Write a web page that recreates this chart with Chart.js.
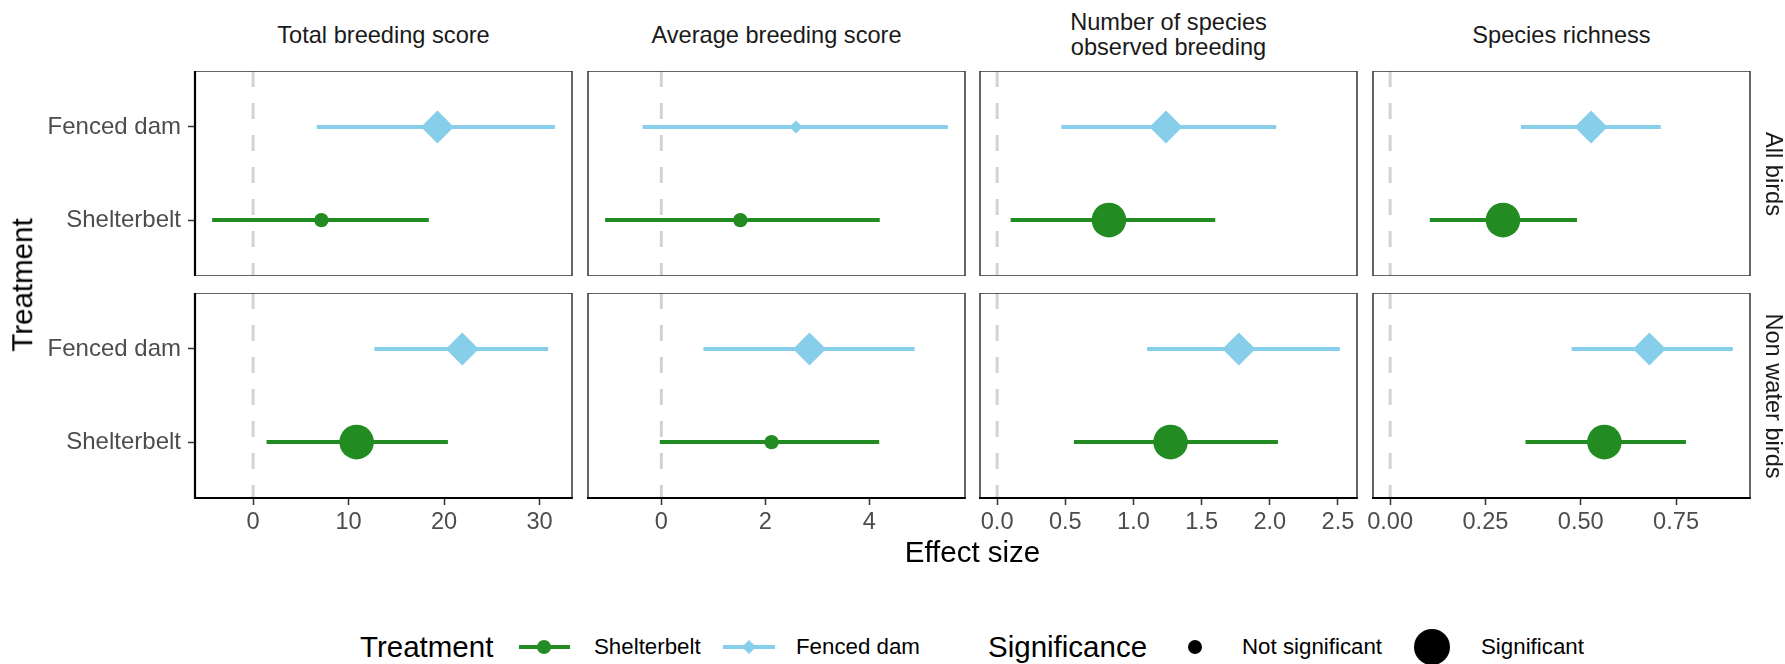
<!DOCTYPE html>
<html><head><meta charset="utf-8">
<script src="https://cdn.jsdelivr.net/npm/chart.js@4.4.1/dist/chart.umd.min.js"></script>
<style>
html,body{margin:0;padding:0;background:#fff;}
body{width:1785px;height:664px;position:relative;overflow:hidden;font-family:"Liberation Sans",Arial,sans-serif;}
canvas{position:absolute;}
.txt{position:absolute;white-space:pre;line-height:1;}
.shape{position:absolute;}
</style></head><body>
<script>
// ---------- data ----------
const metrics = ['Total breeding score', 'Average breeding score', 'Number of species\nobserved breeding', 'Species richness'];
const groups = ['All birds', 'Non water birds'];
const treatments = ['Shelterbelt', 'Fenced dam'];
// rows = groups, columns = metrics
const shelterbeltEst  = [[7.15, 1.52, 0.82, 0.296], [10.84, 2.12, 1.272, 0.562]];
const shelterbeltLow  = [[-4.29, -1.08, 0.099, 0.104], [1.41, -0.03, 0.563, 0.355]];
const shelterbeltHigh = [[18.4, 4.20, 1.60, 0.490], [20.4, 4.19, 2.06, 0.776]];
const shelterbeltSig  = [[false, false, true, true], [true, false, true, true]];
const fencedEst  = [[19.3, 2.59, 1.238, 0.527], [21.9, 2.85, 1.773, 0.680]];
const fencedLow  = [[6.67, -0.36, 0.471, 0.343], [12.7, 0.81, 1.10, 0.476]];
const fencedHigh = [[31.6, 5.51, 2.047, 0.710], [30.9, 4.87, 2.514, 0.899]];
const fencedSig  = [[true, false, true, true], [true, true, true, true]];
const xTicks = [[0, 10, 20, 30], [0, 2, 4], [0, 0.5, 1, 1.5, 2, 2.5], [0, 0.25, 0.5, 0.75]];
const xDecimals = [0, 0, 1, 2];

// ---------- styles / layout ----------
const GREEN = '#228B22', BLUE = '#87CEEB';
const FONT = '"Liberation Sans", Arial, sans-serif';
const COL_LEFT = [195, 588, 980, 1373], COL_W = 377;
const ROW_TOP = [71, 293], ROW_H = 205;
const YAXIS_W = 165, XAXIS_H = 50, PAD = 30;
const Y_MIN = -0.6, Y_MAX = 1.6;
Chart.defaults.font.family = FONT;

function colRange(c) {
  let lo = 0, hi = 0;
  for (let r = 0; r < 2; r++) {
    lo = Math.min(lo, shelterbeltLow[r][c], fencedLow[r][c]);
    hi = Math.max(hi, shelterbeltHigh[r][c], fencedHigh[r][c]);
  }
  const e = (hi - lo) * 0.05;
  return [lo - e, hi + e];
}

const framePlugin = {
  id: 'frame',
  afterDatasetsDraw(chart, args, opts) {
    const {ctx, chartArea: a} = chart;
    ctx.save();
    ctx.strokeStyle = '#333';
    ctx.lineWidth = 1.5;
    ctx.strokeRect(a.left, a.top, a.right - a.left, a.bottom - a.top);
    ctx.strokeStyle = '#000';
    ctx.lineWidth = 2.2;
    if (opts.leftAxis) { ctx.beginPath(); ctx.moveTo(a.left, a.top - 0.75); ctx.lineTo(a.left, a.bottom + 1); ctx.stroke(); }
    if (opts.bottomAxis) { ctx.beginPath(); ctx.moveTo(a.left - 1, a.bottom); ctx.lineTo(a.right + 0.75, a.bottom); ctx.stroke(); }
    ctx.restore();
  }
};

function zeroPad(s) { s.paddingTop = 0; s.paddingBottom = 0; s.paddingLeft = 0; s.paddingRight = 0; }

function makePanel(r, c) {
  const cv = document.createElement('canvas');
  const showY = c === 0, showX = r === 1;
  const yw = showY ? YAXIS_W : 0;
  const left = COL_LEFT[c] - yw - PAD;
  const w = COL_W + yw + 2 * PAD;
  const h = ROW_H + (showX ? XAXIS_H : 0);
  cv.width = w; cv.height = h;
  cv.style.left = left + 'px'; cv.style.top = ROW_TOP[r] + 'px';
  cv.style.width = w + 'px'; cv.style.height = h + 'px';
  document.body.appendChild(cv);
  const [xmin, xmax] = colRange(c);
  const mk = (lo, hi, est, sig, yv, color, style, rBig, rSmall) => [
    {type: 'line', data: [{x: lo, y: yv}, {x: hi, y: yv}], borderColor: color, borderWidth: 4,
     borderCapStyle: 'butt', pointRadius: 0, order: 5},
    {type: 'scatter', data: [{x: est, y: yv}], pointStyle: style, pointRadius: sig ? rBig : rSmall,
     backgroundColor: color, borderWidth: 0, order: 1}
  ];
  const datasets = [
    {type: 'line', data: [{x: 0, y: Y_MAX}, {x: 0, y: Y_MIN}], borderColor: '#d3d3d3', borderWidth: 3,
     borderDash: [16, 16], borderCapStyle: 'butt', pointRadius: 0, order: 10},
    ...mk(shelterbeltLow[r][c], shelterbeltHigh[r][c], shelterbeltEst[r][c], shelterbeltSig[r][c], 0, GREEN, 'circle', 17.3, 7.2),
    ...mk(fencedLow[r][c], fencedHigh[r][c], fencedEst[r][c], fencedSig[r][c], 1, BLUE, 'rectRot', 16.5, 6.5)
  ];
  new Chart(cv, {
    type: 'scatter',
    data: {datasets},
    plugins: [framePlugin],
    options: {
      responsive: false, animation: false, devicePixelRatio: 1, events: [],
      layout: {padding: {left: PAD, right: PAD, top: 0, bottom: 0}, autoPadding: false},
      plugins: {legend: {display: false}, tooltip: {enabled: false}, title: {display: false},
                frame: {leftAxis: showY, bottomAxis: showX}},
      scales: {
        x: {
          type: 'linear', min: xmin, max: xmax, display: showX,
          afterBuildTicks: s => { s.ticks = xTicks[c].map(v => ({value: v})); },
          afterFit: s => { s.height = showX ? XAXIS_H : 0; zeroPad(s); },
          ticks: {callback: v => Number(v).toFixed(xDecimals[c]), font: {size: 23.6, family: FONT},
                  color: '#4d4d4d', padding: 3, maxRotation: 0, autoSkip: false},
          grid: {drawOnChartArea: false, drawTicks: true, tickLength: 7, tickColor: '#333', tickWidth: 1.5},
          border: {display: false}
        },
        y: {
          type: 'linear', min: Y_MIN, max: Y_MAX, display: showY,
          afterBuildTicks: s => { s.ticks = [{value: 0}, {value: 1}]; },
          afterFit: s => { s.width = showY ? YAXIS_W : 0; zeroPad(s); },
          ticks: {callback: v => treatments[v], font: {size: 24, family: FONT}, color: '#4d4d4d', padding: 7},
          grid: {drawOnChartArea: false, drawTicks: true, tickLength: 7, tickColor: '#333', tickWidth: 1.5},
          border: {display: false}
        }
      }
    }
  });
}

for (let r = 0; r < 2; r++) for (let c = 0; c < 4; c++) makePanel(r, c);

// ---------- text ----------
function addText(str, x, y, size, color, opts = {}) {
  const d = document.createElement('div');
  d.className = 'txt';
  d.textContent = str;
  d.style.fontSize = size + 'px';
  d.style.color = color;
  d.style.left = x + 'px';
  d.style.top = y + 'px';
  if (opts.lineHeight) d.style.lineHeight = opts.lineHeight + 'px';
  d.style.textAlign = 'center';
  const tx = opts.anchor === 'left' ? '0' : '-50%';
  d.style.transform = `translate(${tx}, -50%)` + (opts.rot ? ` rotate(${opts.rot}deg)` : '');
  document.body.appendChild(d);
  return d;
}
metrics.forEach((m, c) => addText(m, COL_LEFT[c] + COL_W / 2, 35.6, 23.6, '#1a1a1a', {lineHeight: 25.8}));
groups.forEach((g, r) => addText(g, 1772.5, ROW_TOP[r] + ROW_H / 2, 23.6, '#1a1a1a', {rot: 90}));
addText('Effect size', (COL_LEFT[0] + COL_LEFT[3] + COL_W) / 2, 552, 29.5, '#000');
addText('Treatment', 22, (ROW_TOP[0] + ROW_TOP[1] + ROW_H) / 2, 29.5, '#000', {rot: -90});

// ---------- legend ----------
const LY = 647;
function shape(css) {
  const d = document.createElement('div');
  d.className = 'shape';
  Object.assign(d.style, css);
  document.body.appendChild(d);
}
addText('Treatment', 360, LY, 29.5, '#000', {anchor: 'left'});
shape({left: '519px', top: (LY - 2) + 'px', width: '51px', height: '4px', background: GREEN});
shape({left: (544 - 7) + 'px', top: (LY - 7) + 'px', width: '14px', height: '14px', borderRadius: '50%', background: GREEN});
addText(treatments[0], 594, LY, 22.3, '#000', {anchor: 'left'});
shape({left: '723px', top: (LY - 2) + 'px', width: '52px', height: '4px', background: BLUE});
shape({left: (749 - 5) + 'px', top: (LY - 5) + 'px', width: '10px', height: '10px', background: BLUE, transform: 'rotate(45deg)'});
addText(treatments[1], 796, LY, 22.3, '#000', {anchor: 'left'});
addText('Significance', 988, LY, 29.5, '#000', {anchor: 'left'});
shape({left: (1195 - 7) + 'px', top: (LY - 7) + 'px', width: '14px', height: '14px', borderRadius: '50%', background: '#000'});
addText('Not significant', 1242, LY, 22.3, '#000', {anchor: 'left'});
shape({left: (1432 - 18) + 'px', top: (LY - 18) + 'px', width: '36px', height: '36px', borderRadius: '50%', background: '#000'});
addText('Significant', 1481, LY, 22.3, '#000', {anchor: 'left'});
</script>
</body></html>
